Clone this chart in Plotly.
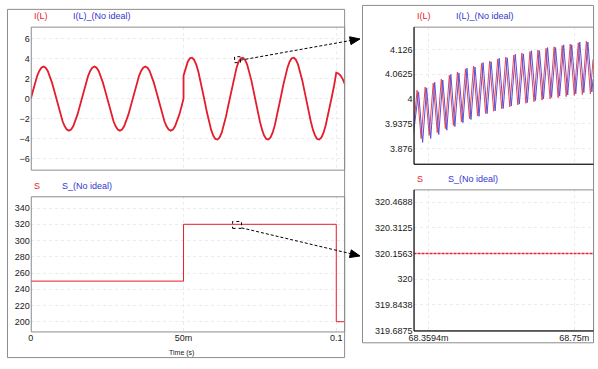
import plotly.graph_objects as go

# ---------------- data ----------------
# Left-top: inductor current I(L) (time in ms)
iL_t_a = [0.0, 0.694, 1.389, 2.083, 2.778, 3.472, 4.167, 4.861, 5.556, 6.25, 6.944, 7.639,
          8.333, 9.028, 9.722, 10.417, 11.111, 11.806, 12.5, 13.194, 13.889, 14.583, 15.278, 15.972,
          16.667, 17.361, 18.056, 18.75, 19.444, 20.139, 20.833, 21.528, 22.222, 22.917, 23.611, 24.306,
          25.0, 25.694, 26.389, 27.083, 27.778, 28.472, 29.167, 29.861, 30.556, 31.25, 31.944, 32.639,
          33.333, 34.028, 34.722, 35.417, 36.111, 36.806, 37.5, 38.194, 38.889, 39.583, 40.278, 40.972,
          41.667, 42.361, 43.056, 43.75, 44.444, 45.139, 45.833, 46.528, 47.222, 47.917, 48.611, 49.306,
          50.0]
iL_v_a = [0.0, 0.83, 1.6, 2.26, 2.77, 3.09, 3.22, 3.09, 2.77, 2.26, 1.6, 0.83,
          0.0, -0.83, -1.6, -2.26, -2.77, -3.09, -3.2, -3.09, -2.77, -2.26, -1.6, -0.83,
          0.0, 0.83, 1.6, 2.26, 2.77, 3.09, 3.22, 3.09, 2.77, 2.26, 1.6, 0.83,
          0.0, -0.83, -1.6, -2.26, -2.77, -3.09, -3.2, -3.09, -2.77, -2.26, -1.6, -0.83,
          0.0, 0.83, 1.6, 2.26, 2.77, 3.09, 3.22, 3.09, 2.77, 2.26, 1.6, 0.83,
          0.0, -0.83, -1.6, -2.26, -2.77, -3.09, -3.2, -3.09, -2.77, -2.26, -1.6, -0.83,
          0.0]
iL_t_b = [50.0, 50.694, 51.389, 52.083, 52.778, 53.472, 54.167, 54.861, 55.556, 56.25, 56.944, 57.639,
          58.333, 59.028, 59.722, 60.417, 61.111, 61.806, 62.5, 63.194, 63.889, 64.583, 65.278, 65.972,
          66.667, 67.361, 68.056, 68.75, 69.444, 70.139, 70.833, 71.528, 72.222, 72.917, 73.611, 74.306,
          75.0, 75.694, 76.389, 77.083, 77.778, 78.472, 79.167, 79.861, 80.556, 81.25, 81.944, 82.639,
          83.333, 84.028, 84.722, 85.417, 86.111, 86.806, 87.5, 88.194, 88.889, 89.583, 90.278, 90.972,
          91.667, 92.361, 93.056, 93.75, 94.444, 95.139, 95.833, 96.528, 97.222, 97.917, 98.611, 99.306,
          100.0]
iL_v_b = [2.29, 3.10, 3.69, 4.03, 4.09, 3.88, 3.40, 2.69, 1.80, 0.78, -0.29, -1.34,
          -2.29, -3.10, -3.69, -4.03, -4.09, -3.88, -3.40, -2.69, -1.80, -0.78, 0.29, 1.34,
          2.29, 3.10, 3.69, 4.03, 4.09, 3.88, 3.40, 2.69, 1.80, 0.78, -0.29, -1.34,
          -2.29, -3.10, -3.69, -4.03, -4.09, -3.88, -3.40, -2.69, -1.80, -0.78, 0.29, 1.34,
          2.29, 3.10, 3.69, 4.03, 4.09, 3.88, 3.40, 2.69, 1.80, 0.78, -0.29, -1.34,
          -2.29, -3.10, -3.69, -4.03, -4.09, -3.88, -3.40, -2.69, -1.80, -0.78, 0.29, 1.34,
          2.29]
iL_t_c = [100.0, 100.7, 101.4, 102.1, 102.9]
iL_v_c = [2.60, 2.52, 2.30, 1.95, 1.40]

# Left-bottom: S (time in ms)
s_t = [0.0, 50.0, 100.0, 102.9]
s_v = [250, 320, 200, 200]

# Right-top: zoomed ripple (time in ms)
rip_t_red = [68.3195,
             68.3290, 68.3398, 68.3506, 68.3614, 68.3722, 68.3830, 68.3938, 68.4046,
             68.4154, 68.4262, 68.4370, 68.4478, 68.4586, 68.4694, 68.4802, 68.4910,
             68.5018, 68.5126, 68.5234, 68.5342, 68.5450, 68.5558, 68.5666, 68.5774,
             68.5882, 68.5990, 68.6098, 68.6206, 68.6314, 68.6422, 68.6530, 68.6638,
             68.6746, 68.6854, 68.6962, 68.7070, 68.7178, 68.7286, 68.7394, 68.7502,
             68.7610, 68.7718, 68.7826, 68.7934,
             68.8005]
rip_v_red = [3.925,
             4.022, 3.900, 4.030, 3.908, 4.040, 3.915, 4.050, 3.925,
             4.060, 3.933, 4.068, 3.942, 4.076, 3.950, 4.083, 3.957,
             4.090, 3.963, 4.096, 3.969, 4.101, 3.975, 4.106, 3.980,
             4.111, 3.985, 4.116, 3.989, 4.120, 3.993, 4.124, 3.997,
             4.128, 4.000, 4.132, 4.003, 4.135, 4.006, 4.139, 4.009,
             4.142, 4.011, 4.146, 4.013,
             4.100]
rip_t_blue = [68.3195,
              68.3330, 68.3438, 68.3546, 68.3654, 68.3762, 68.3870, 68.3978, 68.4086,
              68.4194, 68.4302, 68.4410, 68.4518, 68.4626, 68.4734, 68.4842, 68.4950,
              68.5058, 68.5166, 68.5274, 68.5382, 68.5490, 68.5598, 68.5706, 68.5814,
              68.5922, 68.6030, 68.6138, 68.6246, 68.6354, 68.6462, 68.6570, 68.6678,
              68.6786, 68.6894, 68.7002, 68.7110, 68.7218, 68.7326, 68.7434, 68.7542,
              68.7650, 68.7758, 68.7866, 68.7974,
              68.8005]
rip_v_blue = [3.915,
              4.018, 3.890, 4.028, 3.900, 4.042, 3.910, 4.048, 3.921,
              4.062, 3.930, 4.066, 3.940, 4.078, 3.948, 4.081, 3.956,
              4.092, 3.963, 4.094, 3.970, 4.103, 3.976, 4.104, 3.982,
              4.113, 3.987, 4.114, 3.991, 4.122, 3.996, 4.122, 4.000,
              4.130, 4.004, 4.130, 4.007, 4.137, 4.010, 4.137, 4.013,
              4.144, 4.016, 4.144, 4.018,
              4.050]

# Right-bottom: zoomed S
sz_t = [68.3195, 68.5600, 68.8005]
sz_v = [320.15625, 320.15625, 320.15625]

# tick definitions
y1_ticks = [-6, -4, -2, 0, 2, 4, 6]
y2_ticks = [200, 220, 240, 260, 280, 300, 320, 340]
x_ticks_left = [0, 50, 100]
x_ticktext_left = ["0", "50m", "0.1"]
y3_ticks = [3.875, 3.9375, 4.0, 4.0625, 4.125]
y3_ticktext = ["3.876", "3.9375", "4", "4.0625", "4.126"]
y4_ticks = [319.6875, 319.84375, 320.0, 320.15625, 320.3125, 320.46875]
y4_ticktext = ["319.6875", "319.8438", "320", "320.1563", "320.3125", "320.4688"]
x_ticks_right = [68.3594, 68.75]
x_ticktext_right = ["68.3594m", "68.75m"]

# ---------------- figure ----------------
W, H = 598, 369
def px(x):
    return x / W
def py(y):
    return 1 - y / H

RED = "#e51c2c"
BLUE = "#3434d2"
FONT = "Liberation Sans, Arial, sans-serif"

fig = go.Figure()

fig.add_trace(go.Scatter(x=iL_t_a + iL_t_b + iL_t_c, y=iL_v_a + iL_v_b + iL_v_c,
                         mode="lines", line=dict(color=RED, width=1.8),
                         xaxis="x", yaxis="y", showlegend=False, hoverinfo="skip"))
fig.add_trace(go.Scatter(x=s_t, y=s_v, mode="lines", line=dict(color=RED, width=1, shape="hv"),
                         xaxis="x2", yaxis="y2", showlegend=False, hoverinfo="skip"))
fig.add_trace(go.Scatter(x=rip_t_red, y=rip_v_red, mode="lines", line=dict(color="#ea4450", width=1),
                         xaxis="x3", yaxis="y3", showlegend=False, hoverinfo="skip"))
fig.add_trace(go.Scatter(x=rip_t_blue, y=rip_v_blue, mode="lines", line=dict(color="#5a50da", width=1),
                         xaxis="x3", yaxis="y3", showlegend=False, hoverinfo="skip"))
fig.add_trace(go.Scatter(x=sz_t, y=sz_v, mode="lines", line=dict(color="#f01e2e", width=1.5, dash="3px,1px"),
                         xaxis="x4", yaxis="y4", showlegend=False, hoverinfo="skip"))

ax_common = dict(showgrid=True, gridcolor="#ebebeb", griddash="dot", gridwidth=1,
                 zeroline=False, showline=False, ticks="", fixedrange=True,
                 tickfont=dict(family=FONT, size=9, color="#1a1a1a"))

fig.update_layout(
    width=W, height=H, margin=dict(l=0, r=0, t=0, b=0),
    paper_bgcolor="white", plot_bgcolor="white",
    xaxis=dict(ax_common, domain=[px(26), px(343)], range=[0, 102.9], anchor="y",
               tickvals=x_ticks_left, showticklabels=False),
    yaxis=dict(ax_common, domain=[py(172), py(27)], range=[-7.1, 7.2], anchor="x",
               tickvals=y1_ticks),
    xaxis2=dict(ax_common, domain=[px(26), px(343)], range=[0, 102.9], anchor="y2",
                tickvals=x_ticks_left, ticktext=x_ticktext_left),
    yaxis2=dict(ax_common, domain=[py(336), py(199)], range=[188, 354.5], anchor="x2",
                tickvals=y2_ticks),
    xaxis3=dict(ax_common, domain=[px(412), px(593)], range=[68.3195, 68.8005], anchor="y3",
                tickvals=x_ticks_right, showticklabels=False),
    yaxis3=dict(ax_common, domain=[py(166), py(27)], range=[3.836, 4.183], anchor="x3",
                tickvals=y3_ticks, ticktext=y3_ticktext),
    xaxis4=dict(ax_common, domain=[px(412), px(593)], range=[68.3195, 68.8005], anchor="y4",
                tickvals=x_ticks_right, ticktext=x_ticktext_right),
    yaxis4=dict(ax_common, domain=[py(335.5), py(192)], range=[319.685, 320.546], anchor="x4",
                tickvals=y4_ticks, ticktext=y4_ticktext),
)

GRAY = "#8c8c8c"
shapes = []
def rect(x0, y0, x1, y1, color=GRAY, dash="solid", width=1):
    shapes.append(dict(type="rect", xref="paper", yref="paper", x0=px(x0), x1=px(x1),
                       y0=py(y1), y1=py(y0), line=dict(color=color, width=width, dash=dash),
                       fillcolor="rgba(0,0,0,0)", layer="above"))
def line(x0, y0, x1, y1, color="black", dash="solid", width=1):
    shapes.append(dict(type="line", xref="paper", yref="paper", x0=px(x0), x1=px(x1),
                       y0=py(y0), y1=py(y1), line=dict(color=color, width=width, dash=dash),
                       layer="above"))
def tri(tipx, tipy, fromx, fromy, length=10, half=4):
    import math
    dx, dy = tipx - fromx, tipy - fromy
    d = math.hypot(dx, dy)
    ux, uy = dx / d, dy / d
    bx, by = tipx - ux * length, tipy - uy * length
    nx, ny = -uy, ux
    pts = [(tipx, tipy), (bx + nx * half, by + ny * half), (bx - nx * half, by - ny * half)]
    path = "M " + " L ".join(f"{px(a)} {py(b)}" for a, b in pts) + " Z"
    shapes.append(dict(type="path", xref="paper", yref="paper", path=path,
                       fillcolor="black", line=dict(color="black", width=1), layer="above"))

# outer frames
rect(2.5, 9.5, 342.5, 362.5)
rect(360.5, 5.5, 593.5, 347.5)
# plot boxes
rect(26.5, 27.5, 342.5, 172.5)
rect(26.5, 199.5, 342.5, 336.5)
rect(412.5, 27.5, 593.5, 166.5)
rect(412.5, 192.5, 593.5, 335.5)
# black axes on right plots
line(412.5, 27.5, 412.5, 166.5)
line(412.5, 166.5, 593.5, 166.5)
line(412.5, 192.5, 412.5, 335.5)
line(412.5, 335.5, 593.5, 335.5)
# zoom boxes and arrows
rect(231.5, 57.5, 237.5, 63.5, color="black", dash="dot")
line(237.5, 61, 350, 40.8, color="black", dash="3px,2px")
tri(358, 39.5, 237.5, 61)
rect(229.5, 224.5, 238.5, 231.5, color="black", dash="dot")
line(238.5, 231, 350, 257.5, color="black", dash="3px,2px")
tri(358, 259.5, 238.5, 231)

fig.update_layout(shapes=shapes)

ann = []
def label(x, y, text, color, size=9, xanchor="left"):
    ann.append(dict(x=px(x), y=py(y), xref="paper", yref="paper", text=text, showarrow=False,
                    xanchor=xanchor, yanchor="middle",
                    font=dict(family=FONT, size=size, color=color)))

label(27, 16, "I(L)", RED)
label(67, 16, "I(L)_(No ideal)", BLUE)
label(27, 189, "S", RED)
label(55, 189, "S_(No ideal)", BLUE)
label(413, 16, "I(L)", RED)
label(453, 16, "I(L)_(No ideal)", BLUE)
label(413, 181, "S", RED)
label(445, 181, "S_(No ideal)", BLUE)
label(178, 357.5, "Time (s)", "#1a1a1a", size=7, xanchor="center")

fig.update_layout(annotations=ann)

fig.write_html("out.html", config={"displayModeBar": False},
               post_script="document.body.style.margin='0';document.body.style.overflow='hidden';")
